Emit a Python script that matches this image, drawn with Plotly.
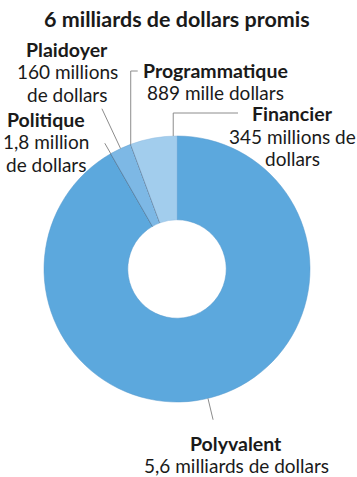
import math
import plotly.graph_objects as go

# Pledged amounts by category (US dollars), clockwise from 12 o'clock
categories = ["Polyvalent", "Politique", "Plaidoyer", "Programmatique", "Financier"]
amounts = [5.6e9, 1.8e6, 160e6, 889e3, 345e6]
amount_lines = [
    ["5,6 milliards de dollars"],
    ["1,8 million", "de dollars"],
    ["160 millions", "de dollars"],
    ["889 mille dollars"],
    ["345 millions de", "dollars"],
]
slice_colors = ["#5ca8dd", "#6f98bf", "#7db8e5", "#6f98bf", "#a2cded"]
title_text = "6 milliards de dollars promis"

W, H = 357, 477
CX, CY, R = 177, 269, 133  # donut centre and outer radius in pixels
HOLE = 0.37

FONT = "Lato"
LINE_COLOR = "#8c8c8c"
TEXT_COLOR = "#1a1a1a"
LINE_GAP = 22.5


def px(x):
    return x / W


def py(y):
    return 1 - y / H


# cumulative angles (degrees clockwise from top) for each slice
total = sum(amounts)
starts, ends = [], []
acc = 0.0
for v in amounts:
    starts.append(acc)
    acc += v / total * 360
    ends.append(acc)


def point(angle_deg, r):
    a = math.radians(angle_deg)
    return CX + r * math.sin(a), CY - r * math.cos(a)


fig = go.Figure(
    go.Pie(
        labels=categories,
        values=amounts,
        sort=False,
        direction="clockwise",
        rotation=0,
        hole=HOLE,
        textinfo="none",
        hoverinfo="label+value",
        marker=dict(
            colors=slice_colors,
            line=dict(
                color=["#5499cc", "#5f6f80", "#5f9fcf", "#5f6f80", "#8fbbe0"],
                width=[0.5, 0.8, 0.5, 0.8, 0.5],
            ),
        ),
        domain=dict(x=[px(CX - R), px(CX + R)], y=[py(CY + R), py(CY - R)]),
        showlegend=False,
    )
)

shapes = []


def seg(x0, y0, x1, y1):
    shapes.append(
        dict(
            type="line", xref="paper", yref="paper",
            x0=px(x0), y0=py(y0), x1=px(x1), y1=py(y1),
            line=dict(color=LINE_COLOR, width=1),
        )
    )


mid = [(s + e) / 2 for s, e in zip(starts, ends)]

# Polyvalent: radial leader below the ring
x0, y0 = point(mid[0] + 1.5, R)
x1, y1 = point(mid[0] + 1.5, R + 22)
seg(x0, y0, x1, y1)

# Politique: short radial leader at the slice
x0, y0 = point(mid[1], R)
x1, y1 = point(mid[1], R + 12)
seg(x0, y0, x1, y1)

# Plaidoyer: radial leader up-left
x0, y0 = point(mid[2], R)
x1, y1 = point(mid[2], R + 44)
seg(x0, y0, x1, y1)

# Programmatique: elbow leader up to the label
x0, y0 = point(mid[3], R)
seg(x0, y0, x0, 71)
seg(x0, 71, x0 + 7, 71)

# Financier: elbow leader near the top of the slice
fa = starts[4] + 0.92 * (ends[4] - starts[4])
x0, y0 = point(fa, R)
seg(x0, y0, x0, 113)
seg(x0, 113, 238, 113)

annotations = []


def text(s, x, y, size, bold=False):
    annotations.append(
        dict(
            text=f"<b>{s}</b>" if bold else s,
            x=px(x), y=py(y), xref="paper", yref="paper",
            xanchor="center", yanchor="middle", showarrow=False,
            font=dict(family=FONT, size=size, color=TEXT_COLOR),
        )
    )


text(title_text, 177, 19, 21.5, bold=True)

# centre x and first-line y of each label block
label_pos = {
    "Polyvalent": (236, 443),
    "Politique": (46, 119),
    "Plaidoyer": (67, 49),
    "Programmatique": (216, 70),
    "Financier": (292, 114),
}
for cat, lines in zip(categories, amount_lines):
    x, y = label_pos[cat]
    text(cat, x, y, 19.5, bold=True)
    for i, line in enumerate(lines):
        text(line, x, y + LINE_GAP * (i + 1), 19)

fig.update_layout(
    width=W, height=H, autosize=False,
    margin=dict(l=0, r=0, t=0, b=0),
    paper_bgcolor="white", plot_bgcolor="white",
    shapes=shapes, annotations=annotations,
    font=dict(family=FONT),
)

fig.write_html("out.html")
